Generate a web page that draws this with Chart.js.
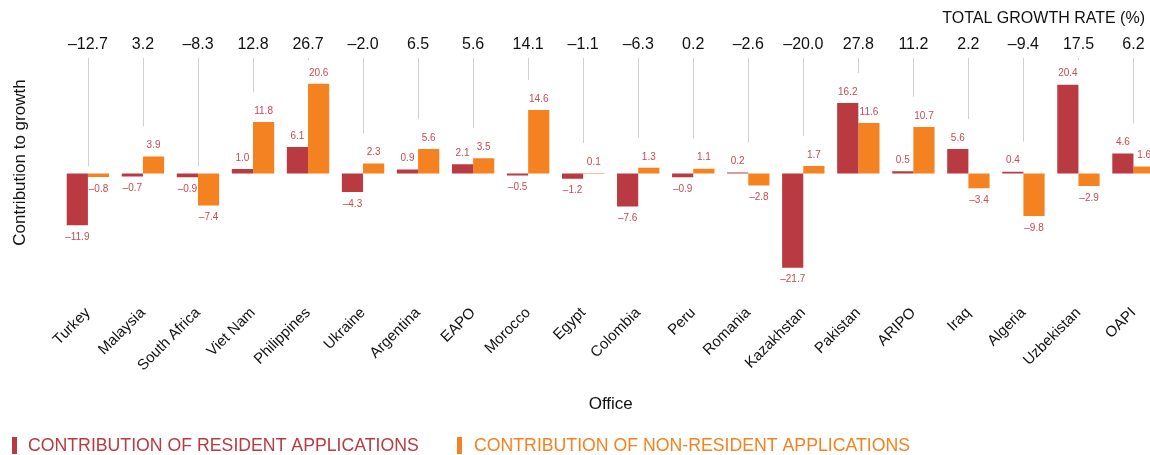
<!DOCTYPE html>
<html>
<head>
<meta charset="utf-8">
<script src="https://cdn.jsdelivr.net/npm/chart.js@4.4.1/dist/chart.umd.min.js"></script>
<style>
  html, body { margin: 0; padding: 0; background: #fff; overflow: hidden; }
  #wrap { width: 1161px; height: 455px; position: relative; }
</style>
</head>
<body>
<div id="wrap"><canvas id="myChart"></canvas></div>
<script>
const offices = ["Turkey", "Malaysia", "South Africa", "Viet Nam", "Philippines", "Ukraine", "Argentina", "EAPO", "Morocco", "Egypt",
  "Colombia", "Peru", "Romania", "Kazakhstan", "Pakistan", "ARIPO", "Iraq", "Algeria", "Uzbekistan", "OAPI"];
const resident = [-11.9, -0.7, -0.9, 1.0, 6.1, -4.3, 0.9, 2.1, -0.5, -1.2, -7.6, -0.9, 0.2, -21.7, 16.2, 0.5, 5.6, 0.4, 20.4, 4.6];
const nonResident = [-0.8, 3.9, -7.4, 11.8, 20.6, 2.3, 5.6, 3.5, 14.6, 0.1, 1.3, 1.1, -2.8, 1.7, 11.6, 10.7, -3.4, -9.8, -2.9, 1.6];
const totalGrowth = [-12.7, 3.2, -8.3, 12.8, 26.7, -2.0, 6.5, 5.6, 14.1, -1.1, -6.3, 0.2, -2.6, -20.0, 27.8, 11.2, 2.2, -9.4, 17.5, 6.2];
const legendLabels = ["CONTRIBUTION OF RESIDENT APPLICATIONS", "CONTRIBUTION OF NON-RESIDENT APPLICATIONS"];

const red = "#b93a41";
const orange = "#f58220";
const font = "Arial, 'Liberation Sans', sans-serif";

function fmt(v) {
  return (v < 0 ? "\u2013" : "") + Math.abs(v).toFixed(1);
}

const extras = {
  id: "extras",
  afterDatasetsDraw(chart) {
    const ctx = chart.ctx;
    const x = chart.scales.x;
    const y = chart.scales.y;
    const zero = y.getPixelForValue(0);
    ctx.save();

    // value labels
    ctx.font = "10px " + font;
    ctx.fillStyle = "#c94a52";
    ctx.textAlign = "center";
    ctx.textBaseline = "middle";
    chart.data.datasets.forEach((ds, di) => {
      chart.getDatasetMeta(di).data.forEach((bar, i) => {
        const v = ds.data[i];
        const ly = v >= 0 ? bar.y - 11 : bar.y + 12;
        ctx.fillText(fmt(v), bar.x, ly);
      });
    });

    // totals and connectors
    ctx.font = "16px " + font;
    ctx.fillStyle = "#111";
    totalGrowth.forEach((t, i) => {
      const cx = x.getPixelForValue(i);
      ctx.fillText(fmt(t), cx, 45);
      const maxV = Math.max(resident[i], nonResident[i]);
      let end = maxV > 0 ? y.getPixelForValue(maxV) - 30 : zero - 7;
      if (end < 60) end = 60;
      ctx.strokeStyle = "#d0d0d0";
      ctx.lineWidth = 1;
      ctx.beginPath();
      ctx.moveTo(Math.round(cx) + 0.5, 58);
      ctx.lineTo(Math.round(cx) + 0.5, end);
      ctx.stroke();
    });
    ctx.textAlign = "right";
    ctx.fillText("TOTAL GROWTH RATE (%)", 1145, 19);

    // legend
    ctx.font = "17.7px " + font;
    ctx.textAlign = "left";
    ctx.fillStyle = red;
    ctx.fillRect(12, 437, 5, 17);
    ctx.fillText(legendLabels[0], 28, 446);
    ctx.fillStyle = orange;
    ctx.fillRect(457, 437, 5, 17);
    ctx.fillText(legendLabels[1], 474, 446);
    ctx.restore();
  }
};

const ctx = document.getElementById("myChart").getContext("2d");
const chart = new Chart(ctx, {
  type: "bar",
  data: {
    labels: offices,
    datasets: [{
      label: legendLabels[0],
      data: resident,
      backgroundColor: red,
      barPercentage: 1,
      categoryPercentage: 0.77
    }, {
      label: legendLabels[1],
      data: nonResident,
      backgroundColor: orange,
      barPercentage: 1,
      categoryPercentage: 0.77
    }]
  },
  options: {
    responsive: true,
    maintainAspectRatio: false,
    animation: false,
    layout: { padding: { top: 43, bottom: 40, left: 0, right: 0 } },
    plugins: {
      legend: { display: false },
      tooltip: { enabled: false }
    },
    scales: {
      x: {
        grid: { display: false },
        border: { display: false },
        ticks: {
          color: "#111",
          font: { size: 15, family: font },
          maxRotation: 45,
          minRotation: 45,
          padding: 14
        },
        title: {
          display: true,
          text: "Office",
          color: "#111",
          font: { size: 17, family: font },
          padding: { top: 6, bottom: 0 }
        }
      },
      y: {
        min: -25,
        max: 30,
        grid: { display: false },
        border: { display: false },
        ticks: { display: false },
        title: {
          display: true,
          text: "Contribution to growth",
          color: "#111",
          font: { size: 17, family: font },
          padding: { top: 10, bottom: 22 }
        }
      }
    }
  },
  plugins: [extras]
});
</script>
</body>
</html>
